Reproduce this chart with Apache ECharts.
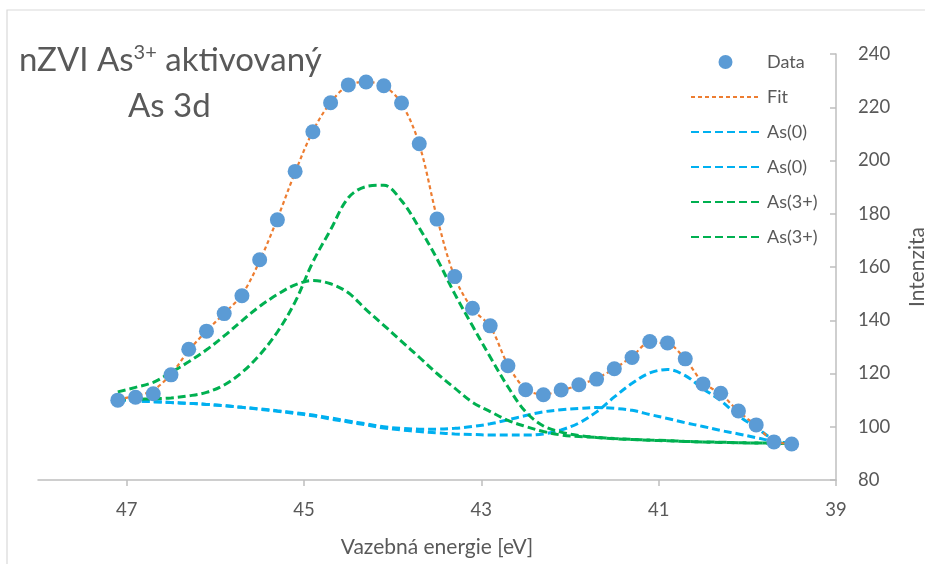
<!DOCTYPE html>
<html><head><meta charset="utf-8">
<script src="https://cdn.jsdelivr.net/npm/echarts@6/dist/echarts.min.js"></script>
<style>html,body{margin:0;padding:0;background:#fff;overflow:hidden}#c{width:925px;height:564px}</style>
</head><body><div id="c"></div>
<script>
// Binding energy grid (eV)
const energy = [47.1,46.9,46.7,46.5,46.3,46.1,45.9,45.7,45.5,45.3,45.1,44.9,44.7,44.5,44.3,44.1,43.9,43.7,43.5,43.3,43.1,42.9,42.7,42.5,42.3,42.1,41.9,41.7,41.5,41.3,41.1,40.9,40.7,40.5,40.3,40.1,39.9,39.7,39.5];
// Measured intensities
const dataIntensity = [110.0,111.1,112.4,119.5,129.1,135.9,142.5,149.2,162.7,177.7,195.9,210.8,221.7,228.4,229.5,228.1,221.6,206.3,178.0,156.4,144.5,137.9,122.9,113.9,112.0,113.8,115.8,117.9,121.8,126.0,132.0,131.5,125.5,116.1,112.6,105.9,100.7,94.3,93.5];
// Fit envelope
const fitValues = [110.3,111.6,113.8,119.8,128.6,136.0,142.6,149.6,162.3,178.2,195.6,211.0,221.8,228.2,229.5,228.0,221.4,206.0,178.6,156.2,144.3,137.6,123.3,114.2,112.2,113.6,115.7,118.2,121.8,126.4,131.6,131.2,125.3,116.6,112.3,105.8,100.4,94.6,93.6];
// As(0) components
const as0Broad = [110.1,109.7,109.4,109.1,108.8,108.4,107.9,107.3,106.7,106.0,105.3,104.4,103.3,102.2,101.1,100.0,99.4,99.1,99.1,99.4,100.1,101.1,102.6,104.2,105.6,106.4,106.9,107.2,106.9,106.2,104.6,103.1,101.5,100.1,98.6,97.3,95.9,94.5,93.7];
const as0Narrow = [110.1,109.7,109.4,109.1,108.8,108.4,107.9,107.3,106.6,105.8,105.0,104.1,102.9,101.8,100.7,99.5,98.8,98.2,97.7,97.3,97.1,96.9,96.9,96.9,97.3,98.8,101.4,105.6,111.2,116.3,120.2,121.5,119.2,114.3,109.8,104.1,99.7,95.2,93.5];
// As(3+) components
const as3Broad = [113.1,114.8,116.7,120.4,124.4,128.9,134.1,139.8,145.2,149.7,153.3,154.9,153.7,150.3,144.0,138.1,132.1,126.1,120.0,114.5,109.2,105.7,102.4,100.1,98.2,96.9,96.3,96.0,95.6,95.3,95.0,94.8,94.5,94.3,94.2,94.0,93.9,93.8,93.7];
const as3Narrow = [110.1,110.3,110.5,110.8,111.6,112.9,115.7,120.4,127.0,135.6,146.9,161.9,174.0,186.0,190.2,190.7,184.9,174.7,163.1,149.9,137.9,126.2,115.0,105.6,100.3,98.0,96.7,96.0,95.5,95.2,94.9,94.7,94.5,94.3,94.1,94.0,93.9,93.8,93.7];
// Axis ticks
const xTicks = [39,41,43,45,47];
const yMin = 80, yMax = 240, yStep = 20;

const pair = arr => energy.map((e, i) => [e, arr[i]]);
const FONT = 'Lato';
const TXT = '#595959';
const AX = '#bfbfbf';

const chart = echarts.init(document.getElementById('c'), null, {renderer: 'canvas'});
const compLine = (color) => ({color: color, width: 3, type: [8, 4]});
const hideSym = {itemStyle: {opacity: 0}};

chart.setOption({
  animation: false,
  backgroundColor: '#fff',
  textStyle: {fontFamily: FONT},
  graphic: [{type: 'rect', shape: {x: 7, y: 10, width: 940, height: 600},
    style: {fill: 'none', stroke: '#d9d9d9', lineWidth: 1.2}, silent: true, z: -1}],
  title: [
    {text: '{a|nZVI As}{s|3+}{a| aktivovaný}', left: 19, top: 40, padding: 0,
      textStyle: {rich: {
        a: {fontSize: 33, fontFamily: FONT, color: TXT, fontWeight: 'normal', lineHeight: 40},
        s: {fontSize: 20, fontFamily: FONT, color: TXT, fontWeight: 'normal', lineHeight: 24, verticalAlign: 'top', padding: [3, 0, 0, 0]}
      }}},
    {text: 'As 3d', left: 128, top: 86, padding: 0,
      textStyle: {fontSize: 33, fontFamily: FONT, color: TXT, fontWeight: 'normal', lineHeight: 40}}
  ],
  legend: {
    orient: 'vertical', left: 685, top: 46, itemWidth: 69, itemHeight: 14, itemGap: 13,
    textStyle: {fontSize: 18, color: TXT, fontFamily: FONT, lineHeight: 22, padding: [0, 0, 0, 2]},
    formatter: name => name.split('#')[0],
    data: [
      {name: 'Data'},
      Object.assign({name: 'Fit'}, hideSym),
      Object.assign({name: 'As(0)#1'}, hideSym),
      Object.assign({name: 'As(0)#2'}, hideSym),
      Object.assign({name: 'As(3+)#1'}, hideSym),
      Object.assign({name: 'As(3+)#2'}, hideSym)
    ]
  },
  grid: {left: 38, right: 89, top: 54, bottom: 84, containLabel: false, outerBoundsMode: 'none'},
  xAxis: {
    type: 'value', min: 39, max: 48, inverse: true,
    axisLine: {onZero: false, lineStyle: {color: AX, width: 1.5}},
    axisTick: {show: true, customValues: xTicks, length: 6, lineStyle: {color: AX, width: 1.5}},
    axisLabel: {customValues: xTicks, fontSize: 18.5, color: TXT, fontFamily: FONT, margin: 21},
    splitLine: {show: false},
    name: 'Vazebná energie [eV]', nameLocation: 'middle', nameGap: 57, nameMoveOverlap: false,
    nameTextStyle: {fontSize: 21, color: TXT, fontFamily: FONT}
  },
  yAxis: {
    type: 'value', position: 'right', min: yMin, max: yMax, interval: yStep,
    axisLine: {show: true, onZero: false, lineStyle: {color: AX, width: 1.5}},
    axisTick: {show: true, inside: true, length: 6, lineStyle: {color: AX, width: 1.5}},
    axisLabel: {fontSize: 18.5, color: TXT, fontFamily: FONT, margin: 22},
    splitLine: {show: false},
    name: 'Intenzita', nameLocation: 'middle', nameRotate: 90, nameGap: 71, nameMoveOverlap: false,
    nameTextStyle: {fontSize: 21, color: TXT, fontFamily: FONT}
  },
  series: [
    {name: 'Data', type: 'scatter', data: pair(dataIntensity), symbolSize: 15,
      itemStyle: {color: '#5B9BD5', opacity: 1}, z: 5},
    {name: 'Fit', type: 'line', data: pair(fitValues), symbol: 'none', smooth: 0.35,
      lineStyle: {color: '#ED7D31', width: 2.2, type: [4, 3]}, itemStyle: {color: '#ED7D31'}, z: 3},
    {name: 'As(0)#1', type: 'line', data: pair(as0Broad), symbol: 'none', smooth: 0.35,
      lineStyle: compLine('#00B0F0'), itemStyle: {color: '#00B0F0'}, z: 2},
    {name: 'As(0)#2', type: 'line', data: pair(as0Narrow), symbol: 'none', smooth: 0.35,
      lineStyle: compLine('#00B0F0'), itemStyle: {color: '#00B0F0'}, z: 2},
    {name: 'As(3+)#1', type: 'line', data: pair(as3Broad), symbol: 'none', smooth: 0.35,
      lineStyle: compLine('#00B050'), itemStyle: {color: '#00B050'}, z: 2},
    {name: 'As(3+)#2', type: 'line', data: pair(as3Narrow), symbol: 'none', smooth: 0.35,
      lineStyle: compLine('#00B050'), itemStyle: {color: '#00B050'}, z: 2}
  ]
});
</script>
</body></html>
